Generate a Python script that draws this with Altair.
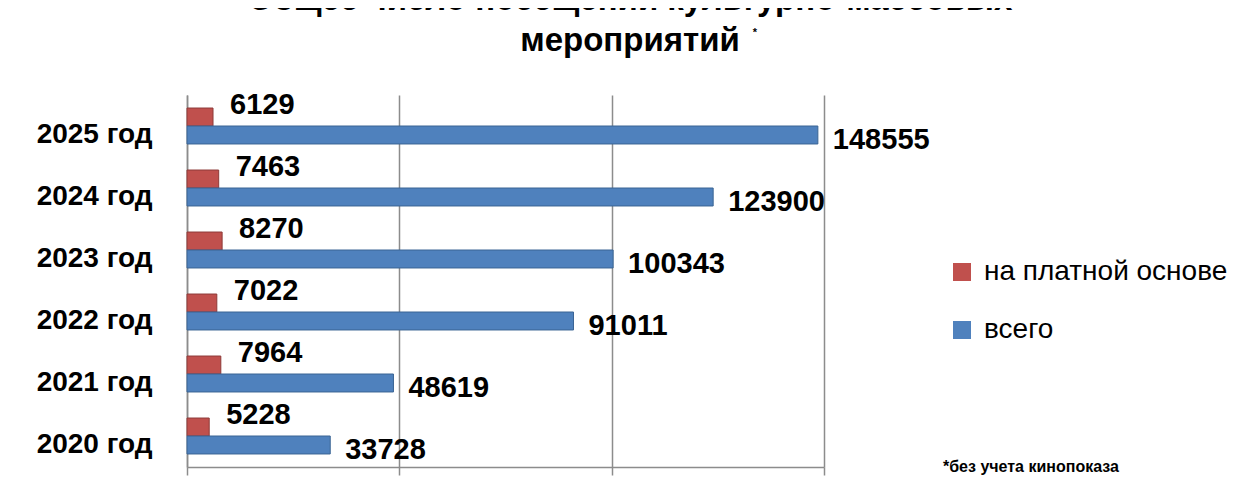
import altair as alt
import pandas as pd

# ---- data ----
years = ["2025 год", "2024 год", "2023 год", "2022 год", "2021 год", "2020 год"]
paid = [6129, 7463, 8270, 7022, 7964, 5228]
total = [148555, 123900, 100343, 91011, 48619, 33728]
series = ["на платной основе", "всего"]
colors = ["#C0504D", "#4F81BD"]
edge_colors = ["#8E3A38", "#3A6494"]
title_lines = ["Общее  число посещений культурно-массовых", "мероприятий"]
footnote = "*без учета кинопоказа"
x_ticks = [0, 50000, 100000, 150000]

rows = []
for y, p, t in zip(years, paid, total):
    rows.append({"year": y, "series": series[0], "value": p})
    rows.append({"year": y, "series": series[1], "value": t})
df = pd.DataFrame(rows)

W, H = 637, 372
FONT = "Liberation Sans"
GRID = "#8c8c8c"

xenc = alt.X(
    "value:Q",
    scale=alt.Scale(domain=[0, 150000], nice=False, zero=True),
    axis=alt.Axis(values=x_ticks, labels=False, title=None, grid=True,
                  gridColor=GRID, gridWidth=1.5, domainColor=GRID, domainWidth=1.5,
                  tickColor=GRID, tickSize=8, tickWidth=1.5),
)
yenc = alt.Y(
    "year:N", sort=years,
    scale=alt.Scale(paddingInner=0.42, paddingOuter=0.21),
    axis=alt.Axis(title=None, ticks=False, labelFont=FONT, labelFontSize=28,
                  labelFontWeight="bold", labelColor="black", labelPadding=35,
                  labelOffset=9, domainColor=GRID, domainWidth=1.5),
)
yoff = alt.YOffset("series:N", sort=series, scale=alt.Scale(paddingInner=0, paddingOuter=0))
color = alt.Color(
    "series:N", sort=series,
    scale=alt.Scale(domain=series, range=colors),
    legend=alt.Legend(title=None, orient="none", legendX=761, legendY=163,
                      symbolType="square", symbolSize=324, symbolStrokeWidth=0,
                      labelFont=FONT, labelFontSize=28, labelColor="black",
                      labelLimit=0, rowPadding=30, labelOffset=8, padding=0,
                      direction="vertical"),
)
stroke = alt.Stroke("series:N", sort=series,
                    scale=alt.Scale(domain=series, range=edge_colors), legend=None)

base = alt.Chart(df)
bars = base.mark_bar(strokeWidth=1).encode(x=xenc, y=yenc, yOffset=yoff, color=color, stroke=stroke)

txt_kw = dict(align="left", baseline="middle", font=FONT, fontSize=29,
              fontWeight="bold", color="black")
red_text = base.transform_filter(alt.datum.series == series[0]).mark_text(
    dx=17, dy=-12, **txt_kw
).encode(x=xenc, y=yenc, yOffset=yoff, text=alt.Text("value:Q", format="d"))
blue_text = base.transform_filter(alt.datum.series == series[1]).mark_text(
    dx=15, dy=5, **txt_kw
).encode(x=xenc, y=yenc, yOffset=yoff, text=alt.Text("value:Q", format="d"))

def note(text, x, y, size, weight="bold", align="center"):
    return alt.Chart(pd.DataFrame({"t": [text]})).mark_text(
        align=align, baseline="alphabetic", font=FONT, fontSize=size,
        fontWeight=weight, color="black"
    ).encode(text="t:N", x=alt.value(x), y=alt.value(y))

title1 = note(title_lines[0], 443, -85, 33)
title2 = note(title_lines[1], 443, -44, 33)
star = note("*", 568, -59, 11, align="center")
foot = alt.Chart(pd.DataFrame({"t": [footnote]})).mark_text(
    align="left", baseline="middle", font=FONT, fontSize=16, fontWeight="bold", color="black"
).encode(text="t:N", x=alt.value(756), y=alt.value(372))

chart = alt.layer(bars, red_text, blue_text, title1, title2, star, foot).properties(
    width=W, height=H,
    padding={"left": 179, "top": 87, "right": 428, "bottom": 10},
    autosize=alt.AutoSizeParams(type="none"),
).configure_view(stroke=None)

chart.save("out.html", embed_options={"renderer": "svg", "actions": False})
